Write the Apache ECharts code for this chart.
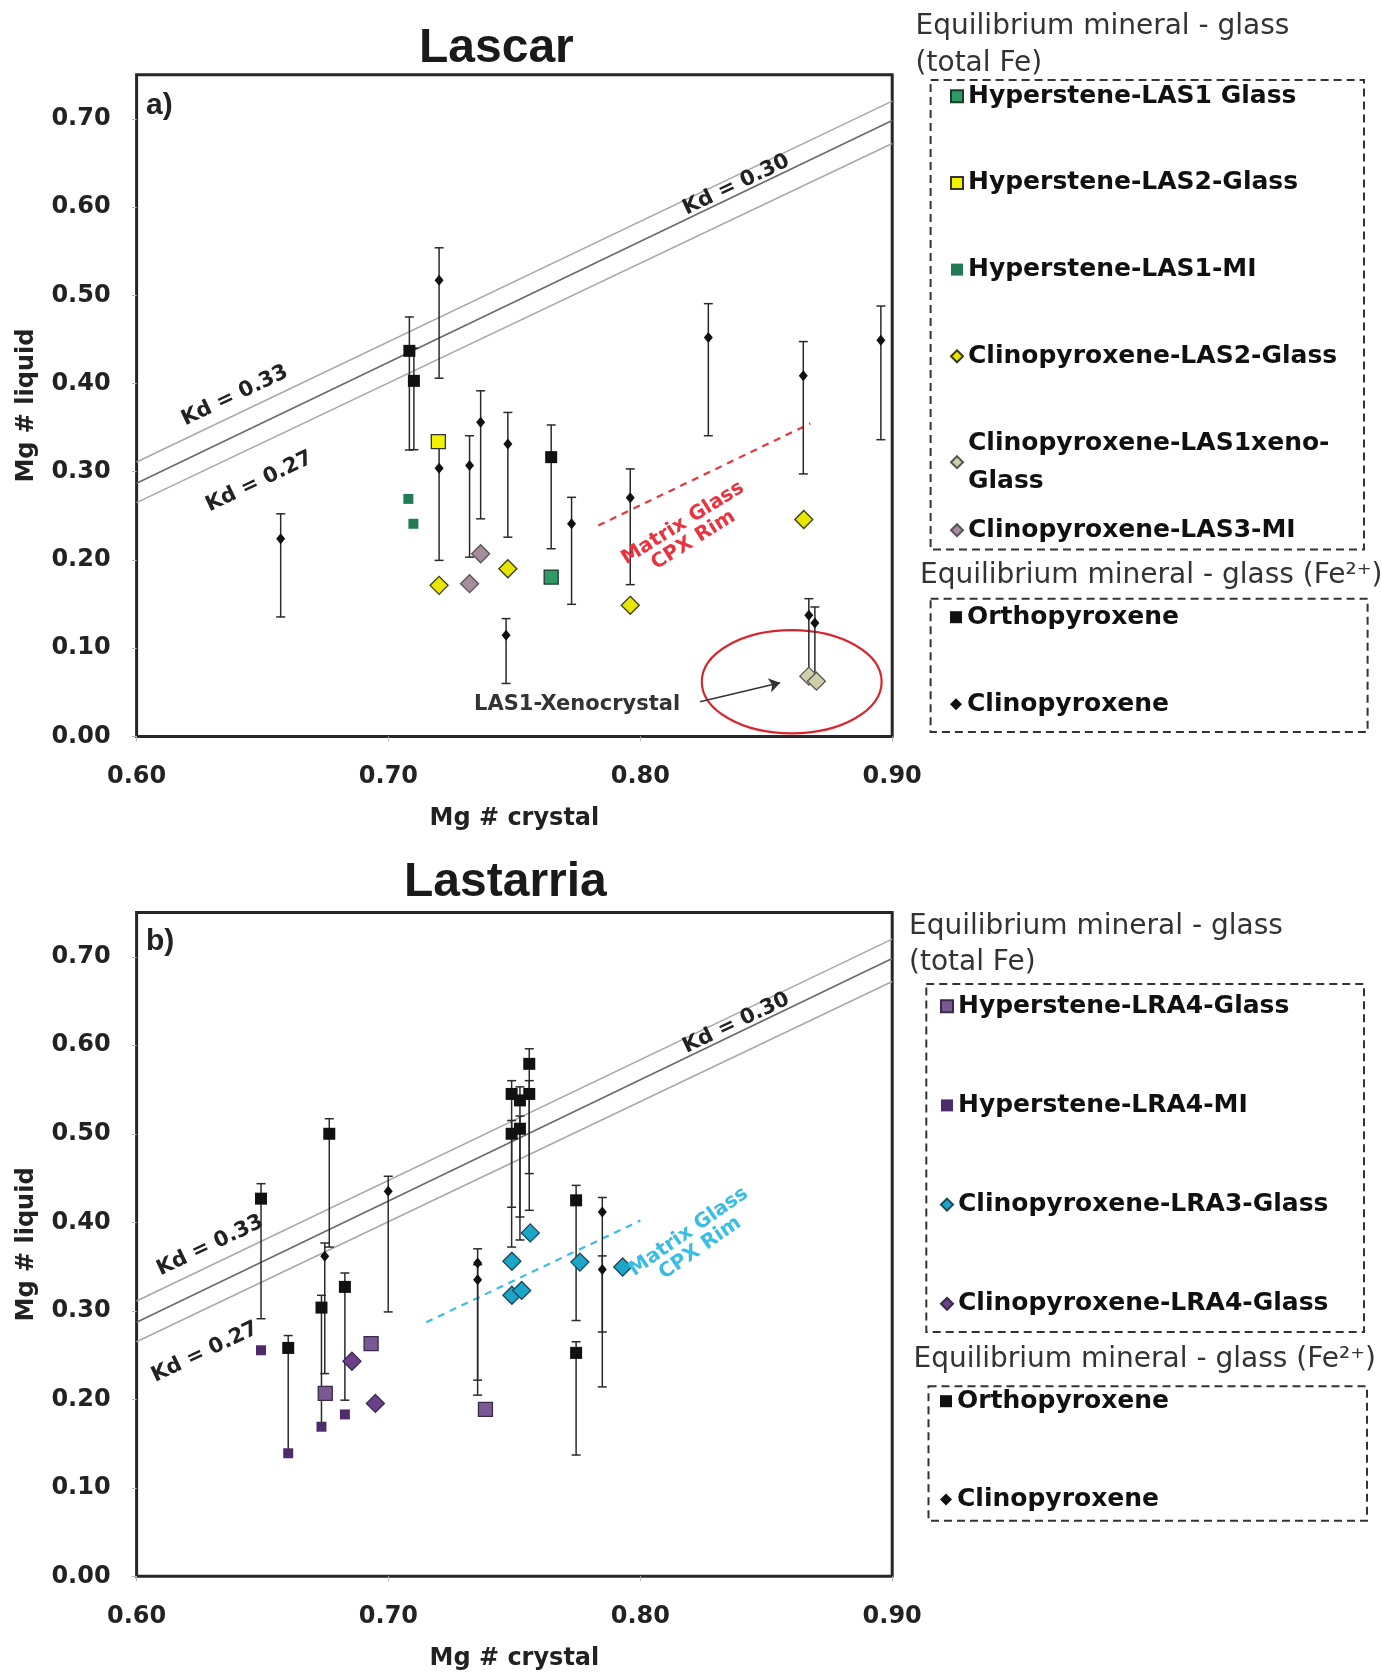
<!DOCTYPE html>
<html>
<head>
<meta charset="utf-8">
<style>
html, body { margin: 0; padding: 0; background: #fff; }
#main { width: 1382px; height: 1673px; }
</style>
</head>
<body>
<div id="main"></div>
<script src="https://cdn.jsdelivr.net/npm/echarts@6/dist/echarts.min.js"></script>
<script>
// ---- shared Kd reference lines (Mg# crystal vs Mg# liquid)
const kdX = [0.60, 0.90]
const kd033 = [0.311, 0.720]
const kd030 = [0.287, 0.698]
const kd027 = [0.265, 0.672]

// ---- a) Lascar, Fe2+ (with error bars)
const lasOpxX = [0.7083, 0.7101, 0.7646]
const lasOpxY = [0.437, 0.403, 0.3165]
const lasOpxLo = [0.3246, 0.325, 0.2127]
const lasOpxHi = [0.4754, 0.440, 0.353]

const lasCpxX = [0.6572, 0.7201, 0.7201, 0.7322, 0.7366, 0.7474, 0.7727, 0.7960, 0.7467, 0.8270, 0.8647, 0.8955, 0.8669, 0.8693]
const lasCpxY = [0.224, 0.517, 0.304, 0.307, 0.356, 0.3314, 0.241, 0.2704, 0.1147, 0.452, 0.4087, 0.449, 0.1373, 0.1286]
const lasCpxLo = [0.1354, 0.406, 0.1995, 0.2032, 0.2466, 0.2258, 0.1497, 0.172, 0.060, 0.3408, 0.2975, 0.3363, 0.0675, 0.0619]
const lasCpxHi = [0.2523, 0.5538, 0.335, 0.3408, 0.3917, 0.3672, 0.271, 0.3032, 0.1335, 0.4905, 0.4475, 0.4878, 0.1561, 0.1467]

// ---- a) Lascar, total Fe
const hypLas1GlassX = [0.7646]
const hypLas1GlassY = [0.1806]
const hypLas2GlassX = [0.7198]
const hypLas2GlassY = [0.334]
const hypLas1MiX = [0.7079, 0.7099]
const hypLas1MiY = [0.2692, 0.241]
const cpxLas2GlassX = [0.7201, 0.7474, 0.7960, 0.8649]
const cpxLas2GlassY = [0.1712, 0.190, 0.1486, 0.2458]
const cpxLas1XenoX = [0.8669, 0.8699]
const cpxLas1XenoY = [0.0683, 0.0626]
const cpxLas3MiX = [0.7322, 0.7366]
const cpxLas3MiY = [0.1731, 0.207]

const rimLasX = [0.7833, 0.8675]
const rimLasY = [0.239, 0.3547]
const xenoEllipse = [0.8601, 0.0619, 0.0357, 0.0585] // cx, cy, rx, ry
const xenoArrowX = [0.8237, 0.8555]
const xenoArrowY = [0.0393, 0.0607]

// ---- b) Lastarria, Fe2+ (with error bars)
const lraOpxX = [0.6494, 0.6602, 0.6765, 0.6734, 0.6827, 0.7489, 0.7522, 0.7559, 0.7559, 0.7489, 0.7522, 0.7745, 0.7745]
const lraOpxY = [0.4267, 0.258, 0.500, 0.3036, 0.327, 0.545, 0.5377, 0.545, 0.579, 0.500, 0.5057, 0.4248, 0.2524]
const lraOpxLo = [0.291, 0.139, 0.372, 0.171, 0.199, 0.417, 0.406, 0.4135, 0.455, 0.372, 0.380, 0.289, 0.137]
const lraOpxHi = [0.4436, 0.272, 0.517, 0.3175, 0.3427, 0.560, 0.553, 0.560, 0.596, 0.515, 0.520, 0.4417, 0.265]

const lraCpxX = [0.6747, 0.6999, 0.7354, 0.7354, 0.7849, 0.7849]
const lraCpxY = [0.3616, 0.435, 0.354, 0.335, 0.4116, 0.3465]
const lraCpxLo = [0.229, 0.2987, 0.2216, 0.2047, 0.276, 0.214]
const lraCpxHi = [0.3766, 0.452, 0.370, 0.352, 0.428, 0.362]

// ---- b) Lastarria, total Fe
const hypLra4GlassX = [0.6749, 0.6931, 0.7385]
const hypLra4GlassY = [0.2066, 0.263, 0.1885]
const hypLra4MiX = [0.6494, 0.6602, 0.6734, 0.6827]
const hypLra4MiY = [0.2554, 0.139, 0.169, 0.1829]
const cpxLra3GlassX = [0.7563, 0.7490, 0.7490, 0.7529, 0.7760, 0.7930]
const cpxLra3GlassY = [0.388, 0.356, 0.3175, 0.323, 0.355, 0.3495]
const cpxLra4GlassX = [0.6855, 0.6948]
const cpxLra4GlassY = [0.243, 0.1953]

const rimLraX = [0.715, 0.800]
const rimLraY = [0.287, 0.402]

const FONT = 'DejaVu Sans'
const chart = echarts.init(document.getElementById('main'))

function pts (xs, ys) {
  return xs.map((x, i) => [x, ys[i]])
}

function dots (name, xs, ys, g, symbol, size, color, border) {
  return {
    name: name,
    type: 'scatter',
    xAxisIndex: g,
    yAxisIndex: g,
    symbol: symbol,
    symbolSize: size,
    itemStyle: { color: color, borderColor: border || color, borderWidth: border ? 1.3 : 0, opacity: 1 },
    data: pts(xs, ys),
    z: 4
  }
}

function bars (xs, lo, hi, g) {
  return {
    type: 'custom',
    xAxisIndex: g,
    yAxisIndex: g,
    silent: true,
    z: 3,
    encode: { x: 0, y: [1, 2] },
    data: xs.map((x, i) => [x, lo[i], hi[i]]),
    renderItem: (params, api) => {
      const a = api.coord([api.value(0), api.value(1)])
      const b = api.coord([api.value(0), api.value(2)])
      const st = { stroke: '#2a2a2a', lineWidth: 1.5 }
      return {
        type: 'group',
        children: [
          { type: 'line', shape: { x1: a[0], y1: a[1], x2: b[0], y2: b[1] }, style: st },
          { type: 'line', shape: { x1: a[0] - 4.5, y1: a[1], x2: a[0] + 4.5, y2: a[1] }, style: st },
          { type: 'line', shape: { x1: b[0] - 4.5, y1: b[1], x2: b[0] + 4.5, y2: b[1] }, style: st }
        ]
      }
    }
  }
}

function guide (xs, ys, g, color, width, type) {
  return {
    type: 'line',
    xAxisIndex: g,
    yAxisIndex: g,
    silent: true,
    symbol: 'none',
    z: 1,
    lineStyle: { color: color, width: width, type: type || 'solid' },
    data: pts(xs, ys)
  }
}

function kdLines (g) {
  return [
    guide(kdX, kd033, g, '#a8a8a8', 1.5),
    guide(kdX, kd030, g, '#6a6a6a', 1.6),
    guide(kdX, kd027, g, '#a8a8a8', 1.5)
  ]
}

const labelStyle = { fontFamily: FONT, fontWeight: 'bold', fontSize: 24, color: '#222' }

function xAx (g) {
  return {
    type: 'value',
    gridIndex: g,
    min: 0.6,
    max: 0.9,
    interval: 0.1,
    name: 'Mg # crystal',
    nameLocation: 'middle',
    nameGap: 70,
    nameTextStyle: labelStyle,
    axisLine: { show: false },
    axisTick: { show: true, length: 5, lineStyle: { color: '#bbb' } },
    splitLine: { show: false },
    axisLabel: Object.assign({ margin: 28, formatter: v => v.toFixed(2) }, labelStyle)
  }
}

function yAx (g) {
  return {
    type: 'value',
    gridIndex: g,
    min: 0,
    max: 0.75,
    interval: 0.1,
    name: 'Mg # liquid',
    nameLocation: 'middle',
    nameGap: 98,
    nameTextStyle: labelStyle,
    axisLine: { show: false },
    axisTick: { show: true, length: 5, lineStyle: { color: '#bbb' } },
    splitLine: { show: false },
    axisLabel: Object.assign({ margin: 26, showMaxLabel: false, formatter: v => v.toFixed(2) }, labelStyle)
  }
}

const legendText = { fontFamily: FONT, fontWeight: 'bold', fontSize: 25, color: '#111', lineHeight: 38.4 }
function legendBox (names, left, top, gap) {
  return {
    orient: 'vertical',
    left: left,
    top: top,
    padding: 0,
    itemGap: gap,
    itemWidth: 12,
    itemHeight: 12,
    selectedMode: false,
    data: names,
    textStyle: legendText,
    formatter: n => n === 'Clinopyroxene-LAS1xeno-Glass' ? 'Clinopyroxene-LAS1xeno-\nGlass' : n
  }
}

const xenoSeries = {
  type: 'custom',
  xAxisIndex: 0,
  yAxisIndex: 0,
  silent: true,
  z: 2,
  encode: { x: 0, y: 1 },
  data: [xenoEllipse],
  renderItem: (params, api) => {
    const c = api.coord([api.value(0), api.value(1)])
    const s = api.size([api.value(2), api.value(3)])
    return {
      type: 'ellipse',
      shape: { cx: c[0], cy: c[1], rx: s[0], ry: s[1] },
      style: { fill: 'none', stroke: '#d8262f', lineWidth: 2.2 }
    }
  },
  markLine: {
    silent: true,
    symbol: ['none', 'arrow'],
    symbolSize: 11,
    label: { show: false },
    lineStyle: { color: '#333', width: 1.5, type: 'solid' },
    data: [[{ coord: [xenoArrowX[0], xenoArrowY[0]] }, { coord: [xenoArrowX[1], xenoArrowY[1]] }]]
  }
}

const option = {
  animation: false,
  backgroundColor: '#fff',
  title: [
    { text: 'Lascar', left: 414, top: 20, textStyle: { fontFamily: 'Liberation Sans', fontWeight: 'bold', fontSize: 48, color: '#1a1a1a' } },
    { text: 'Lastarria', left: 399, top: 854, textStyle: { fontFamily: 'Liberation Sans', fontWeight: 'bold', fontSize: 48, color: '#1a1a1a' } }
  ],
  grid: [
    { left: 136.6, top: 74.7, width: 755.6, height: 661.7, show: true, borderColor: '#262626', borderWidth: 3, backgroundColor: '#fff', containLabel: false, outerBoundsMode: 'none' },
    { left: 136.6, top: 912.5, width: 755.6, height: 663.8, show: true, borderColor: '#262626', borderWidth: 3, backgroundColor: '#fff', containLabel: false, outerBoundsMode: 'none' }
  ],
  xAxis: [xAx(0), xAx(1)],
  yAxis: [yAx(0), yAx(1)],
  legend: [
    legendBox(['Hyperstene-LAS1 Glass', 'Hyperstene-LAS2-Glass', 'Hyperstene-LAS1-MI', 'Clinopyroxene-LAS2-Glass', 'Clinopyroxene-LAS1xeno-Glass'], 950, 77, 48.3),
    legendBox(['Clinopyroxene-LAS3-MI'], 950, 511, 48.3),
    legendBox(['Orthopyroxene', 'Clinopyroxene'], 950, 598, 48.6),
    legendBox(['Hyperstene-LRA4-Glass', 'Hyperstene-LRA4-MI', 'Clinopyroxene-LRA3-Glass', 'Clinopyroxene-LRA4-Glass'], 940, 987, 60.8),
    legendBox(['Orthopyroxene', 'Clinopyroxene'], 940, 1382, 59.8)
  ],
  series: [
    ...kdLines(0),
    guide(rimLasX, rimLasY, 0, '#e8343f', 2.2, [7, 6]),
    xenoSeries,
    bars(lasOpxX, lasOpxLo, lasOpxHi, 0),
    bars(lasCpxX, lasCpxLo, lasCpxHi, 0),
    dots('Hyperstene-LAS1 Glass', hypLas1GlassX, hypLas1GlassY, 0, 'rect', 14, '#2f9a63', '#1d3b2b'),
    dots('Hyperstene-LAS2-Glass', hypLas2GlassX, hypLas2GlassY, 0, 'rect', 14, '#f2f200', '#333'),
    dots('Hyperstene-LAS1-MI', hypLas1MiX, hypLas1MiY, 0, 'rect', 10, '#1f7a55'),
    dots('Clinopyroxene-LAS2-Glass', cpxLas2GlassX, cpxLas2GlassY, 0, 'diamond', 18, '#e6e600', '#3a3a1a'),
    dots('Clinopyroxene-LAS1xeno-Glass', cpxLas1XenoX, cpxLas1XenoY, 0, 'diamond', 18, '#cfcfaa', '#555'),
    dots('Clinopyroxene-LAS3-MI', cpxLas3MiX, cpxLas3MiY, 0, 'diamond', 18, '#a68c9c', '#555'),
    dots('Orthopyroxene', lasOpxX, lasOpxY, 0, 'rect', 12, '#111'),
    dots('Clinopyroxene', lasCpxX, lasCpxY, 0, 'diamond', [9, 11], '#111'),

    ...kdLines(1),
    guide(rimLraX, rimLraY, 1, '#38bde6', 2.2, [7, 6]),
    bars(lraOpxX, lraOpxLo, lraOpxHi, 1),
    bars(lraCpxX, lraCpxLo, lraCpxHi, 1),
    dots('Hyperstene-LRA4-Glass', hypLra4GlassX, hypLra4GlassY, 1, 'rect', 14, '#7a5894', '#3a2a4a'),
    dots('Hyperstene-LRA4-MI', hypLra4MiX, hypLra4MiY, 1, 'rect', 10, '#4d2c6c'),
    dots('Clinopyroxene-LRA3-Glass', cpxLra3GlassX, cpxLra3GlassY, 1, 'diamond', 18, '#1ba6c8', '#1c4656'),
    dots('Clinopyroxene-LRA4-Glass', cpxLra4GlassX, cpxLra4GlassY, 1, 'diamond', 18, '#6b4088', '#3a2a4a'),
    dots('Orthopyroxene', lraOpxX, lraOpxY, 1, 'rect', 12, '#111'),
    dots('Clinopyroxene', lraCpxX, lraCpxY, 1, 'diamond', [9, 11], '#111')
  ]
}
chart.setOption(option)

// annotations placed in data coordinates
const deg = Math.PI / 180
function note (g, x, y, text, font, color, angle) {
  const p = chart.convertToPixel({ gridIndex: g }, [x, y])
  return {
    type: 'text',
    x: p[0],
    y: p[1],
    rotation: (angle || 0) * deg,
    z: 50,
    silent: true,
    style: { text: text, font: font, fill: color, align: 'center', verticalAlign: 'middle', textAlign: 'center', textVerticalAlign: 'middle' }
  }
}
function plain (x, y, text, font, color, align) {
  return {
    type: 'text', x: x, y: y, z: 50, silent: true,
    style: { text: text, font: font, fill: color, align: align || 'left', verticalAlign: 'middle', textAlign: align || 'left', textVerticalAlign: 'middle' }
  }
}
function dashBox (x, y, w, h) {
  return {
    type: 'rect', z: 40, silent: true,
    shape: { x: x, y: y, width: w, height: h },
    style: { fill: 'none', stroke: '#333', lineWidth: 2, lineDash: [8, 5] }
  }
}

const kdFont = 'bold 21px "DejaVu Sans"'
const headFont = '28px "DejaVu Sans"'
const graphic = []
for (const g of [0, 1]) {
  graphic.push(note(g, g === 0 ? 0.639 : 0.6292, g === 0 ? 0.386 : 0.3735, 'Kd = 0.33', kdFont, '#222', 25.5))
  graphic.push(note(g, g === 0 ? 0.6487 : 0.6271, g === 0 ? 0.2885 : 0.2531, 'Kd = 0.27', kdFont, '#222', 25.5))
  graphic.push(note(g, 0.8381, 0.625, 'Kd = 0.30', kdFont, '#222', 25.5))
}
graphic.push(note(0, 0.819, 0.232, 'Matrix Glass\nCPX Rim', 'bold 20px "DejaVu Sans"', '#e8343f', 32))
graphic.push(note(1, 0.8215, 0.380, 'Matrix Glass\nCPX Rim', 'bold 20px "DejaVu Sans"', '#38bde6', 35))
graphic.push(note(0, 0.7749, 0.0366, 'LAS1-Xenocrystal', 'bold 21px "DejaVu Sans"', '#333', 0))
graphic.push(plain(146, 106, 'a)', 'bold 30px "Liberation Sans"', '#222'))
graphic.push(plain(146, 942, 'b)', 'bold 30px "Liberation Sans"', '#222'))

graphic.push(plain(915.6, 26.7, 'Equilibrium mineral - glass', headFont, '#333'))
graphic.push(plain(915.6, 64, '(total Fe)', headFont, '#333'))
graphic.push(plain(920, 576, 'Equilibrium mineral - glass (Fe²⁺)', headFont, '#333'))
graphic.push(dashBox(930.6, 80, 433.4, 469.6))
graphic.push(dashBox(930.6, 598.7, 437, 133.3))

graphic.push(plain(909, 926.3, 'Equilibrium mineral - glass', headFont, '#333'))
graphic.push(plain(909, 962.6, '(total Fe)', headFont, '#333'))
graphic.push(plain(913.5, 1359.6, 'Equilibrium mineral - glass (Fe²⁺)', headFont, '#333'))
graphic.push(dashBox(926.3, 984, 437.7, 348))
graphic.push(dashBox(928.5, 1386.3, 438.5, 134.5))

chart.setOption({ graphic: graphic })
</script>
</body>
</html>
